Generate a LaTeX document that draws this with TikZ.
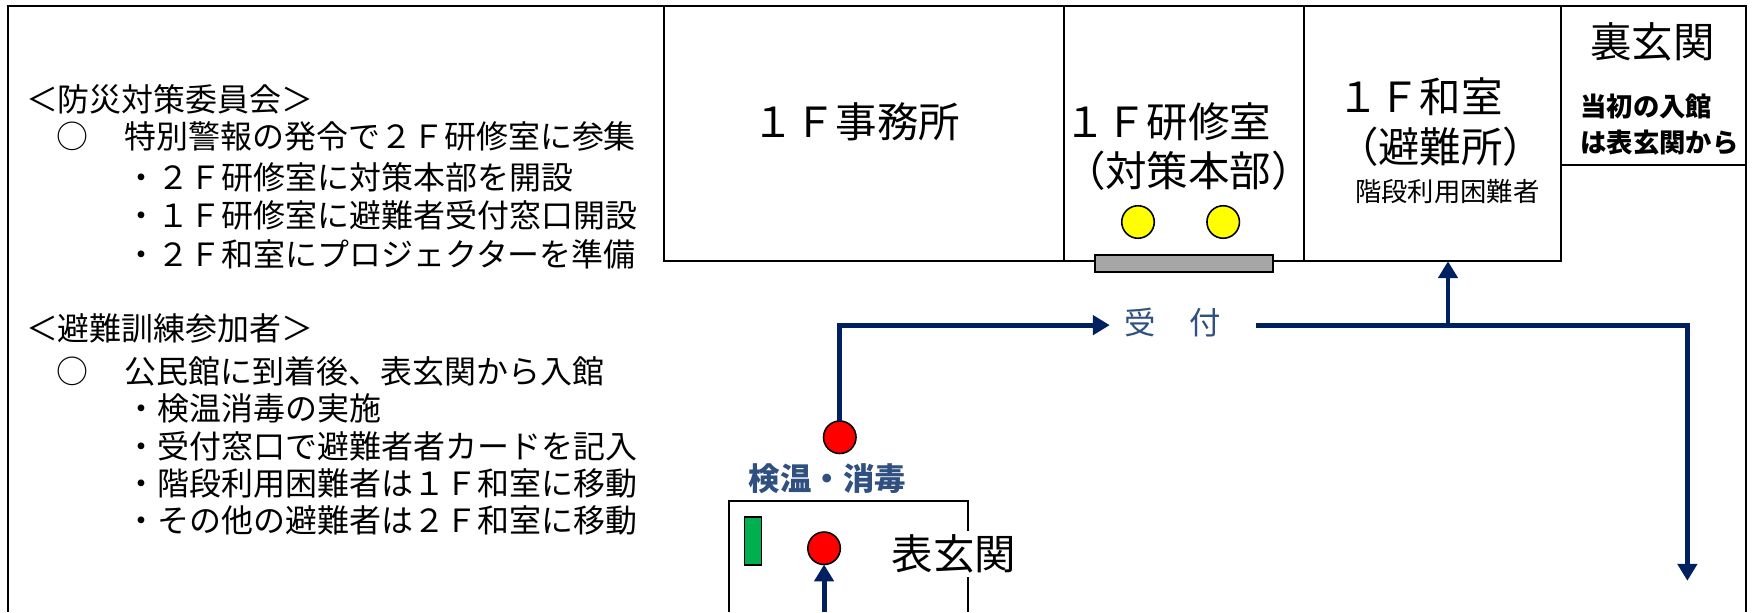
\documentclass[tikz,border=0pt]{standalone}
\usepackage{fontspec}
\setmainfont{Noto Sans CJK JP}
\usepackage{xcolor}
\usetikzlibrary{arrows.meta}
\usetikzlibrary{calc}
\definecolor{navyline}{HTML}{002060}
\definecolor{labelblue}{HTML}{2F5080}
\definecolor{padgreen}{HTML}{00B050}
\definecolor{staffyellow}{HTML}{FFFF00}
\definecolor{checkred}{HTML}{FF0000}
\definecolor{deskgrey}{HTML}{A6A6A6}
\tikzstyle{room} = [draw, line width=1.8pt, inner sep=0pt, outer sep=0pt]
\tikzstyle{big} = [inner sep=0pt, font=\fontsize{37}{44}\selectfont, align=center]
\tikzstyle{small} = [inner sep=0pt, font=\fontsize{23.5}{32}\selectfont, align=left]
\tikzstyle{memo} = [inner sep=0pt, anchor=west, font=\fontsize{28.5}{34}\selectfont]
\tikzstyle{dot} = [draw, circle, line width=1.4pt, minimum size=29pt, inner sep=0pt, outer sep=0pt]
\tikzstyle{arrow} = [-{Triangle[length=15pt,width=17pt]}, line width=4.4pt, navyline]
\tikzstyle{flow} = [line width=4.4pt, navyline]
\tikzstyle{guide} = [inner sep=0pt, text=labelblue, font=\fontsize{28}{34}\selectfont]
\begin{document}
\begin{tikzpicture}[x=1pt, y=-1pt]
			\useasboundingbox (0,0) rectangle (1568,546);
			\draw [line width=1.8pt] (7,546) -- (7,5) -- (1557,5) -- (1557,546);
			
			\node (office) [room, minimum width=357pt, minimum height=228pt] at (770.5,119) {};
			\node (study) [room, minimum width=214pt, minimum height=228pt] at (1056,119) {};
			\node (japan) [room, minimum width=229pt, minimum height=228pt] at (1277.5,119) {};
			\node (back) [room, minimum width=165pt, minimum height=142pt] at (1474.5,76) {};
			\node (counter) [room, fill=deskgrey, minimum width=158pt, minimum height=16pt] at (1056,235) {};
			
			\node (officetxt) [big] at (764,109) {１Ｆ事務所};
			\node (studytxt) [big, align=left] at (1060,131) {１Ｆ研修室\\（対策本部）};
			\node (japantxt) [big, align=left] at (1285,109) {１Ｆ和室\\ （避難所）};
			\node (stairs) [small] at (1291,171) {階段利用困難者};
			\node (backtxt) [big] at (1474,37) {裏玄関};
			\node (backnote) [small, font=\fontsize{23.5}{32}\selectfont\bfseries] at (1480,111) {当初の入館\\は表玄関から};
			
			\node (staffa) [dot, fill=staffyellow] at (1015,198) {};
			\node (staffb) [dot, fill=staffyellow] at (1091,198) {};
			
			% left hand notes
			\node (m1) [memo] at (23,89) {＜防災対策委員会＞};
			\node (m2) [memo] at (50,122) {○};
			\node (m3) [memo] at (111,122) {特別警報の発令で２Ｆ研修室に参集};
			\node (m4) [memo] at (112,158) {・２Ｆ研修室に対策本部を開設};
			\node (m5) [memo] at (112,192) {・１Ｆ研修室に避難者受付窓口開設};
			\node (m6) [memo] at (112,227) {・２Ｆ和室にプロジェクターを準備};
			\node (m7) [memo] at (23,293) {＜避難訓練参加者＞};
			\node (m8) [memo] at (50,331) {○};
			\node (m9) [memo] at (111,331) {公民館に到着後、表玄関から入館};
			\node (m10) [memo] at (112,364) {・検温消毒の実施};
			\node (m11) [memo] at (112,398) {・受付窓口で避難者者カードを記入};
			\node (m12) [memo] at (112,431) {・階段利用困難者は１Ｆ和室に移動};
			\node (m13) [memo] at (112,464) {・その他の避難者は２Ｆ和室に移動};
			
			% entrance
			\coordinate (hallsw) at (650,546);
			\coordinate (hallse) at (863,546);
			\draw [line width=1.8pt] (hallsw) |- (hallse |- 0,447) -- (hallse);
			\node (halltxt) [big, fill=white, inner sep=3pt] at (851,494) {表玄関};
			\node (sanitizer) [draw, line width=1.4pt, fill=padgreen, minimum width=15pt, minimum height=43pt, inner sep=0pt] at (671.5,482.5) {};
			\node (doorcheck) [dot, fill=checkred] at (735,489) {};
			\node (check) [dot, fill=checkred] at (749,390) {};
			\node (checktxt) [guide, font=\fontsize{28}{34}\selectfont\bfseries] at (738,427) {検温・消毒};
			\coordinate (start) at (735,546);
			\draw [arrow] (start) -- (doorcheck);
			
			% route
			\node (desk) [guide, minimum width=130pt, minimum height=30pt] at (1055,288) {受\hspace{30pt}付\hspace{18pt}\null};
			\coordinate (branch) at ($ (japan.south |- 0,290) + (14pt, 0) $);
			\coordinate (lobby) at (branch |- japan.south);
			\coordinate (exit) at (1505,518);
			\coordinate (deskin) at (desk.west |- branch);
			\coordinate (deskout) at (desk.east |- branch);
			\draw [arrow] (check) |- (deskin);
			\draw [flow] (deskout) -- (branch);
			\draw [arrow] (branch) -- (lobby);
			\draw [arrow] (branch) -| (exit);
		\end{tikzpicture}
\end{document}
